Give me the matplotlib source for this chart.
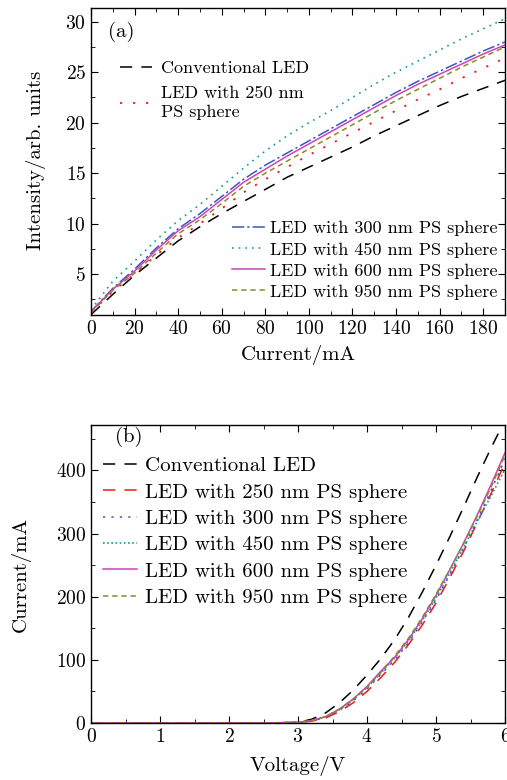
import matplotlib
matplotlib.use("Agg")
import matplotlib.pyplot as plt
from matplotlib.ticker import MultipleLocator

plt.rcParams['font.family'] = 'cmr10'
plt.rcParams['mathtext.fontset'] = 'cm'
plt.rcParams['axes.formatter.use_mathtext'] = True

# (a) light output vs current
current = [0, 10, 20, 30, 40, 50, 60, 70, 80, 90, 100, 110, 120, 130, 140, 150, 160, 170, 180, 190]
int_conv = [1.0, 3.0, 4.9, 6.6, 8.3, 9.7, 11.0, 12.2, 13.4, 14.6, 15.6, 16.6, 17.6, 18.7, 19.7, 20.7, 21.7, 22.6, 23.4, 24.2]
int_250 = [1.2, 3.3, 5.0, 6.9, 8.6, 10.0, 11.5, 13.1, 14.4, 15.6, 16.8, 17.9, 19.0, 20.1, 21.2, 22.3, 23.3, 24.4, 25.4, 26.4]
int_300 = [1.3, 3.6, 5.5, 7.6, 9.5, 11.0, 12.7, 14.4, 15.8, 17.0, 18.2, 19.4, 20.6, 21.8, 23.0, 24.1, 25.1, 26.1, 27.1, 28.0]
int_450 = [1.5, 4.3, 6.3, 8.4, 10.3, 11.9, 13.7, 15.5, 17.2, 18.7, 20.0, 21.2, 22.5, 23.8, 25.0, 26.1, 27.2, 28.3, 29.3, 30.3]
int_600 = [1.3, 3.5, 5.3, 7.4, 9.3, 10.7, 12.4, 14.1, 15.4, 16.7, 17.9, 19.1, 20.3, 21.5, 22.7, 23.8, 24.8, 25.8, 26.8, 27.7]
int_950 = [1.2, 3.4, 5.1, 7.1, 9.0, 10.4, 12.0, 13.7, 15.0, 16.2, 17.4, 18.6, 19.8, 21.0, 22.2, 23.3, 24.4, 25.5, 26.5, 27.5]

# (b) I-V curves
voltage = [0, 0.5, 1.0, 1.5, 2.0, 2.5, 3.0, 3.2, 3.4, 3.6, 3.8, 4.0, 4.2, 4.4, 4.6, 4.8, 5.0, 5.2, 5.4, 5.6, 5.8, 6.0]
iv_conv = [0, 0, 0, 0, 0, 0, 1, 6, 16, 32, 52, 76, 102, 132, 167, 207, 250, 295, 342, 390, 436, 480]
iv_250 = [0, 0, 0, 0, 0, 0, 0.5, 3, 8, 18, 32, 50, 72, 96, 124, 155, 190, 230, 272, 318, 364, 412]
iv_300 = [0, 0, 0, 0, 0, 0, 0.5, 3, 9, 20, 35, 54, 77, 100, 127, 160, 195, 235, 277, 322, 369, 418]
iv_450 = [0, 0, 0, 0, 0, 0, 1, 4, 10, 21, 37, 56, 79, 103, 130, 162, 198, 237, 278, 320, 360, 402]
iv_600 = [0, 0, 0, 0, 0, 0, 1, 4, 10, 22, 38, 58, 82, 104, 132, 165, 202, 243, 285, 330, 378, 428]
iv_950 = [0, 0, 0, 0, 0, 0, 1, 4, 10, 22, 38, 57, 80, 106, 134, 167, 204, 243, 284, 328, 374, 424]

c_conv = 'black'
c_250 = '#f01818'
c_300 = '#3a58b8'
c_450 = '#109a9a'
c_600 = '#d040c0'
c_950 = '#8a8a28'

fig = plt.figure(figsize=(5.07, 7.8), dpi=100)
ax1 = fig.add_axes([91/507, 1-315/780, 414/507, 307/780])
ax2 = fig.add_axes([91/507, 1-723/780, 414/507, 298/780])

lab_fs = 15
tick_fs = 14

# ---- panel (a)
l1, = ax1.plot(current, int_conv, color=c_conv, lw=1.1, ls=(0, (8, 6)), label='Conventional LED')
l2, = ax1.plot(current, int_250, color=c_250, lw=1.3, ls=(0, (1.2, 6)), label='LED with 250 nm\nPS sphere')
l3, = ax1.plot(current, int_300, color=c_300, lw=1.1, ls=(0, (8, 2, 1.5, 2)), label='LED with 300 nm PS sphere')
l4, = ax1.plot(current, int_450, color=c_450, lw=1.2, ls=(0, (1, 3)), label='LED with 450 nm PS sphere')
l5, = ax1.plot(current, int_600, color=c_600, lw=1.1, ls='-', label='LED with 600 nm PS sphere')
l6, = ax1.plot(current, int_950, color=c_950, lw=1.1, ls=(0, (3.5, 2.5)), label='LED with 950 nm PS sphere')

ax1.set_xlim(0, 190)
ax1.set_ylim(0.96, 31.36)
ax1.xaxis.set_major_locator(MultipleLocator(20))
ax1.xaxis.set_minor_locator(MultipleLocator(10))
ax1.yaxis.set_minor_locator(MultipleLocator(2.5))
ax1.set_yticks([5, 10, 15, 20, 25, 30])
ax1.set_xlabel('Current/mA', fontsize=lab_fs)
ax1.set_ylabel('Intensity/arb. units', fontsize=lab_fs)
ax1.xaxis.set_label_coords(0.5, -0.098)
ax1.yaxis.set_label_coords(-0.108, 0.505)
ax1.text(0.04, 0.922, '(a)', transform=ax1.transAxes, fontsize=lab_fs, va='center')

leg_a1 = ax1.legend(handles=[l1, l2], loc='upper left', bbox_to_anchor=(0.07, 0.83),
                    frameon=False, fontsize=13, handlelength=1.8, handletextpad=0.45,
                    borderpad=0, borderaxespad=0, labelspacing=0.55)
for t in leg_a1.get_texts():
    t.set_linespacing(1.3)
ax1.add_artist(leg_a1)
ax1.legend(handles=[l3, l4, l5, l6], loc='lower right', bbox_to_anchor=(0.983, 0.05),
           frameon=False, fontsize=13, handlelength=1.85, handletextpad=0.3,
           borderpad=0, borderaxespad=0, labelspacing=0.3)

# ---- panel (b)
ax2.plot(voltage, iv_conv, color=c_conv, lw=1.1, ls=(0, (8, 6)), label='Conventional LED')
ax2.plot(voltage, iv_250, color=c_250, lw=1.1, ls=(0, (8, 6)), label='LED with 250 nm PS sphere')
ax2.plot(voltage, iv_300, color=c_300, lw=1.1, ls=(0, (1.5, 4)), label='LED with 300 nm PS sphere')
ax2.plot(voltage, iv_450, color=c_450, lw=1.2, ls=(0, (1, 1.5)), label='LED with 450 nm PS sphere')
ax2.plot(voltage, iv_600, color=c_600, lw=1.1, ls='-', label='LED with 600 nm PS sphere')
ax2.plot(voltage, iv_950, color=c_950, lw=1.1, ls=(0, (3.5, 2.5)), label='LED with 950 nm PS sphere')

ax2.set_xlim(0, 6)
ax2.set_ylim(0, 472)
ax2.xaxis.set_major_locator(MultipleLocator(1))
ax2.xaxis.set_minor_locator(MultipleLocator(0.5))
ax2.yaxis.set_major_locator(MultipleLocator(100))
ax2.yaxis.set_minor_locator(MultipleLocator(50))
ax2.set_xlabel('Voltage/V', fontsize=lab_fs)
ax2.set_ylabel('Current/mA', fontsize=lab_fs)
ax2.xaxis.set_label_coords(0.5, -0.112)
ax2.yaxis.set_label_coords(-0.145, 0.497)
ax2.text(0.058, 0.96, '(b)', transform=ax2.transAxes, fontsize=lab_fs, va='center')
ax2.legend(loc='upper left', bbox_to_anchor=(0.029, 0.893), frameon=False, fontsize=15,
           handlelength=1.63, handletextpad=0.38, borderpad=0, borderaxespad=0, labelspacing=0.37)

for ax in (ax1, ax2):
    ax.tick_params(which='both', direction='in', top=True, right=True, labelsize=tick_fs)
    ax.tick_params(which='major', length=5)
    ax.tick_params(which='minor', length=3)
    for s in ax.spines.values():
        s.set_linewidth(1.0)

fig.savefig('out.png', dpi=100)
